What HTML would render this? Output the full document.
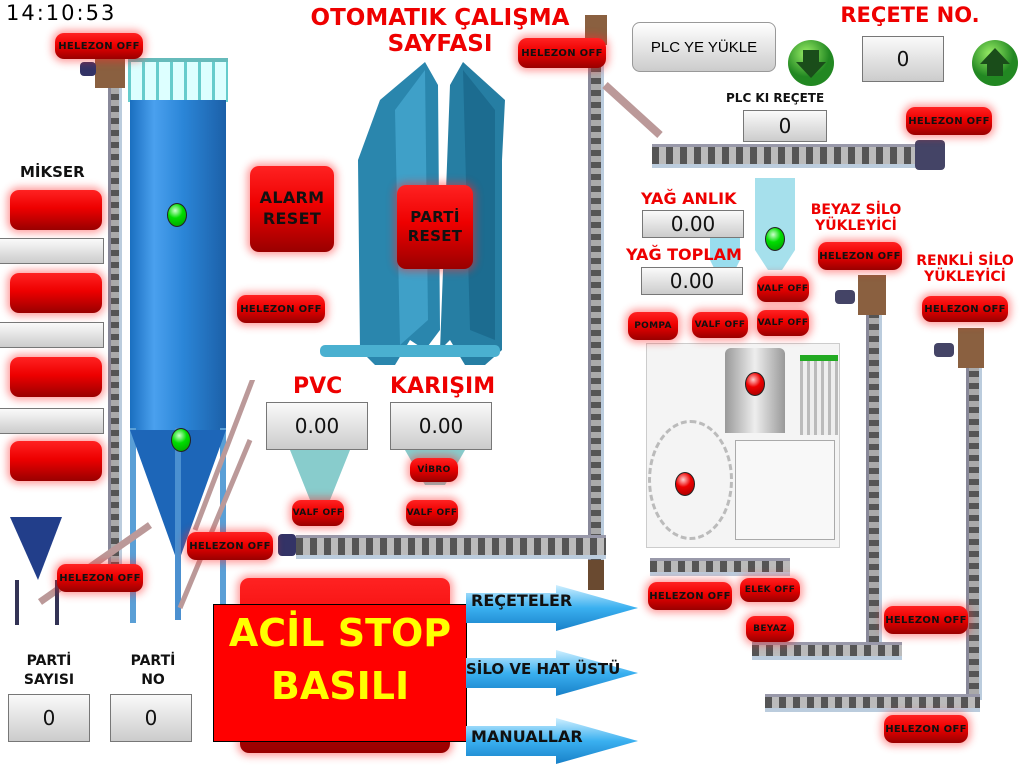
<!DOCTYPE html>
<html><head><meta charset="utf-8">
<style>
*{margin:0;padding:0;box-sizing:border-box}
body{width:1024px;height:763px;background:#fff;position:relative;overflow:hidden;font-family:"Liberation Sans","DejaVu Sans",sans-serif}
.a{position:absolute}
.btn{position:absolute;border-radius:9px;background:linear-gradient(#f22 0%,#e00 45%,#900 100%);box-shadow:0 0 8px 3px rgba(255,40,40,.45);color:#111;font-weight:bold;font-size:10px;text-align:center;display:flex;align-items:center;justify-content:center;letter-spacing:.3px;font-family:"DejaVu Sans",sans-serif}
.box{position:absolute;background:linear-gradient(#fafafa,#ccc);border:1px solid #777;font-size:20px;display:flex;align-items:center;justify-content:center;color:#111;font-family:"DejaVu Sans",sans-serif}
.rt{position:absolute;color:#e00;font-weight:bold;font-family:"DejaVu Sans",sans-serif;text-align:center;line-height:1.15}
.bt{position:absolute;color:#111;font-weight:bold;font-family:"DejaVu Sans",sans-serif;text-align:center;line-height:1.6}
.vs{position:absolute;background:repeating-linear-gradient(180deg,#555 0 6px,#aaa 6px 12px);border-left:3px solid #889;border-right:3px solid #bcd}
.hs{position:absolute;background:repeating-linear-gradient(90deg,#555 0 7px,#bbb 7px 14px);border-top:3px solid #99a;border-bottom:4px solid #bcd}
.dot{position:absolute;width:20px;height:24px;border-radius:50%;border:1px solid #222}
.g{background:radial-gradient(circle at 40% 30%,#cfc,#0d0 40%,#090)}
.r{background:radial-gradient(circle at 40% 30%,#fcc,#e00 40%,#900)}
</style></head><body>
<div class="a" style="left:6px;top:1px;font-size:21px;letter-spacing:2px;font-family:'DejaVu Sans',sans-serif">14:10:53</div>
<div class="rt" style="left:290px;top:5px;width:300px;font-size:23px">OTOMATIK ÇALIŞMA<br>SAYFASI</div>
<div class="rt" style="left:830px;top:3px;width:160px;font-size:21px">REÇETE NO.</div>
<div class="a" style="left:632px;top:22px;width:144px;height:50px;border-radius:8px;background:linear-gradient(#fff,#ccc);border:1px solid #999;font-size:15px;display:flex;align-items:center;justify-content:center">PLC YE YÜKLE</div>
<svg class="a" style="left:786px;top:38px" width="50" height="50"><defs><radialGradient id="gg" cx=".4" cy=".3"><stop offset="0" stop-color="#9e6"/><stop offset="1" stop-color="#282"/></radialGradient></defs><circle cx="25" cy="25" r="23" fill="url(#gg)"/><path d="M17 12h16v12h7L25 40 10 24h7z" fill="#1a4d1a"/></svg>
<svg class="a" style="left:970px;top:38px" width="50" height="50"><circle cx="25" cy="25" r="23" fill="url(#gg)"/><path d="M17 38h16V26h7L25 10 10 26h7z" fill="#1a4d1a"/></svg>
<div class="box" style="left:862px;top:36px;width:82px;height:46px">0</div>
<div class="bt" style="left:726px;top:92px;font-size:12px;line-height:1">PLC KI REÇETE</div>
<div class="box" style="left:743px;top:110px;width:84px;height:32px">0</div>

<!-- silo -->
<div class="a" style="left:128px;top:58px;width:100px;height:44px;background:repeating-linear-gradient(90deg,#6cc 0 3px,#dff 3px 14px);border-top:4px solid #6bb"></div>
<div class="a" style="left:130px;top:100px;width:96px;height:330px;background:linear-gradient(90deg,#1a6fbf,#4aa0ee 25%,#2b86d8 55%,#1c60a8)"></div>
<svg class="a" style="left:128px;top:428px" width="100" height="195"><rect x="2" y="0" width="6" height="195" fill="#5a9fd6"/><rect x="92" y="0" width="6" height="195" fill="#5a9fd6"/><path d="M2 2H98L52 130H48Z" fill="#1d66b8"/><rect x="47" y="0" width="6" height="192" fill="#4b90d0"/></svg>
<div class="dot g" style="left:167px;top:203px"></div>
<div class="dot g" style="left:171px;top:428px"></div>
<div class="vs" style="left:108px;top:82px;width:14px;height:510px"></div>
<div class="a" style="left:95px;top:58px;width:30px;height:30px;background:#8a6040"></div>
<div class="a" style="left:80px;top:62px;width:16px;height:14px;background:#336;border-radius:4px"></div>
<svg class="a" style="left:0;top:380px" width="300" height="250"><line x1="40" y1="222" x2="150" y2="145" stroke="#b99" stroke-width="7"/><line x1="180" y1="228" x2="250" y2="60" stroke="#b99" stroke-width="5"/><path d="M10 137L62 137 38 200Z" fill="#223e8a"/><rect x="15" y="200" width="4" height="45" fill="#335"/><rect x="55" y="200" width="4" height="45" fill="#335"/><line x1="262" y1="-25" x2="195" y2="150" stroke="#b99" stroke-width="5"/></svg>

<!-- hoppers -->
<svg class="a" style="left:300px;top:40px" width="220" height="340">
<path d="M80 60L125 22 138 45 140 290 125 310 110 300 95 325 75 325 60 310 58 120Z" fill="#2a86ad"/>
<path d="M95 70L125 30 128 280 100 305Z" fill="#3fa0c8"/>
<path d="M150 45L163 22 205 60 202 120 202 310 185 325 165 325 150 300 140 310Z" fill="#267ea3"/>
<path d="M163 30 195 70 195 300 170 290Z" fill="#1c6c90"/>
<rect x="20" y="305" width="180" height="12" rx="5" fill="#4ab0d0"/></svg>
<svg class="a" style="left:275px;top:440px" width="220" height="70"><path d="M15 10H75L55 60H35Z" fill="#8cc"/><path d="M130 10H190L170 45H150Z" fill="#8cc"/></svg>

<!-- conveyors -->
<div class="vs" style="left:588px;top:18px;width:16px;height:545px"></div>
<div class="a" style="left:585px;top:15px;width:22px;height:30px;background:#8a6040"></div>
<div class="a" style="left:588px;top:560px;width:16px;height:30px;background:#6a4a30"></div>
<div class="hs" style="left:296px;top:535px;width:310px;height:24px"></div>
<div class="a" style="left:278px;top:534px;width:18px;height:22px;background:#336;border-radius:4px"></div>
<div class="hs" style="left:652px;top:144px;width:270px;height:24px"></div>
<div class="a" style="left:915px;top:140px;width:30px;height:30px;background:#446;border-radius:4px"></div>
<svg class="a" style="left:600px;top:80px" width="70" height="70"><line x1="5" y1="5" x2="60" y2="55" stroke="#b99" stroke-width="8"/></svg>
<div class="vs" style="left:866px;top:300px;width:16px;height:350px"></div>
<div class="a" style="left:858px;top:275px;width:28px;height:40px;background:#8a6040"></div>
<div class="a" style="left:835px;top:290px;width:20px;height:14px;background:#446;border-radius:4px"></div>
<div class="vs" style="left:966px;top:335px;width:16px;height:365px"></div>
<div class="a" style="left:958px;top:328px;width:26px;height:40px;background:#8a6040"></div>
<div class="a" style="left:934px;top:343px;width:20px;height:14px;background:#446;border-radius:4px"></div>
<div class="hs" style="left:752px;top:642px;width:150px;height:18px"></div>
<div class="hs" style="left:765px;top:694px;width:215px;height:18px"></div>
<div class="hs" style="left:650px;top:558px;width:140px;height:18px"></div>

<!-- right silos & mixer -->
<svg class="a" style="left:700px;top:170px" width="100" height="150"><path d="M10 60H40V90L30 110H20L10 90Z" fill="#9de" /><path d="M55 8H95V80L82 100H68L55 80Z" fill="#a6e0ec"/></svg>
<div class="dot g" style="left:765px;top:227px"></div>
<div class="a" style="left:646px;top:343px;width:194px;height:205px;border:1px solid #ccc;background:#f4f4f4"></div>
<div class="a" style="left:725px;top:348px;width:60px;height:85px;background:linear-gradient(90deg,#999,#eee,#999);border-radius:6px 6px 0 0"></div>
<div class="a" style="left:800px;top:355px;width:38px;height:80px;background:repeating-linear-gradient(90deg,#bbb 0 3px,#eee 3px 7px);border-top:6px solid #2a2"></div>
<div class="a" style="left:648px;top:420px;width:85px;height:120px;border:3px dashed #bbb;border-radius:50%"></div>
<div class="a" style="left:735px;top:440px;width:100px;height:100px;border:1px solid #aaa;background:#f8f8f8"></div>
<div class="dot r" style="left:745px;top:372px"></div>
<div class="dot r" style="left:675px;top:472px"></div>

<!-- red buttons -->
<div class="btn" style="left:55px;top:33px;width:88px;height:26px">HELEZON OFF</div>
<div class="btn" style="left:518px;top:38px;width:88px;height:30px">HELEZON OFF</div>
<div class="btn" style="left:906px;top:107px;width:86px;height:28px">HELEZON OFF</div>
<div class="btn" style="left:237px;top:295px;width:88px;height:28px">HELEZON OFF</div>
<div class="btn" style="left:187px;top:532px;width:86px;height:28px">HELEZON OFF</div>
<div class="btn" style="left:57px;top:564px;width:86px;height:28px">HELEZON OFF</div>
<div class="btn" style="left:818px;top:242px;width:84px;height:28px">HELEZON OFF</div>
<div class="btn" style="left:922px;top:296px;width:86px;height:26px">HELEZON OFF</div>
<div class="btn" style="left:648px;top:582px;width:84px;height:28px">HELEZON OFF</div>
<div class="btn" style="left:884px;top:606px;width:84px;height:28px">HELEZON OFF</div>
<div class="btn" style="left:884px;top:715px;width:84px;height:28px">HELEZON OFF</div>
<div class="btn" style="left:10px;top:190px;width:92px;height:40px"></div>
<div class="btn" style="left:10px;top:273px;width:92px;height:40px"></div>
<div class="btn" style="left:10px;top:357px;width:92px;height:40px"></div>
<div class="btn" style="left:10px;top:441px;width:92px;height:40px"></div>
<div class="btn" style="left:250px;top:166px;width:84px;height:86px;font-size:16px;line-height:1.3">ALARM<br>RESET</div>
<div class="btn" style="left:397px;top:185px;width:76px;height:84px;font-size:15px;line-height:1.3">PARTİ<br>RESET</div>
<div class="btn" style="left:410px;top:458px;width:48px;height:24px;font-size:9px">VİBRO</div>
<div class="btn" style="left:292px;top:500px;width:52px;height:26px;font-size:9px">VALF OFF</div>
<div class="btn" style="left:406px;top:500px;width:52px;height:26px;font-size:9px">VALF OFF</div>
<div class="btn" style="left:628px;top:312px;width:50px;height:28px;font-size:9px">POMPA</div>
<div class="btn" style="left:692px;top:312px;width:56px;height:26px;font-size:9px">VALF OFF</div>
<div class="btn" style="left:757px;top:276px;width:52px;height:26px;font-size:9px">VALF OFF</div>
<div class="btn" style="left:757px;top:310px;width:52px;height:26px;font-size:9px">VALF OFF</div>
<div class="btn" style="left:740px;top:578px;width:60px;height:24px;font-size:9px">ELEK OFF</div>
<div class="btn" style="left:746px;top:616px;width:48px;height:26px;font-size:9px">BEYAZ</div>
<div class="btn" style="left:240px;top:578px;width:210px;height:175px"></div>

<!-- labels & boxes -->
<div class="bt" style="left:20px;top:160px;font-size:15px">MİKSER</div>
<div class="box" style="left:-2px;top:238px;width:106px;height:26px"></div>
<div class="box" style="left:-2px;top:322px;width:106px;height:26px"></div>
<div class="box" style="left:-2px;top:408px;width:106px;height:26px"></div>
<div class="rt" style="left:293px;top:374px;font-size:22px">PVC</div>
<div class="rt" style="left:390px;top:374px;font-size:22px">KARIŞIM</div>
<div class="box" style="left:266px;top:402px;width:102px;height:48px">0.00</div>
<div class="box" style="left:390px;top:402px;width:102px;height:48px">0.00</div>
<div class="rt" style="left:641px;top:190px;font-size:16px">YAĞ ANLIK</div>
<div class="box" style="left:642px;top:210px;width:102px;height:28px">0.00</div>
<div class="rt" style="left:626px;top:246px;font-size:16px">YAĞ TOPLAM</div>
<div class="box" style="left:641px;top:267px;width:102px;height:28px">0.00</div>
<div class="rt" style="left:808px;top:202px;width:96px;font-size:14px">BEYAZ SİLO<br>YÜKLEYİCİ</div>
<div class="rt" style="left:912px;top:253px;width:106px;font-size:14px">RENKLİ SİLO<br>YÜKLEYİCİ</div>
<div class="bt" style="left:14px;top:652px;width:70px;font-size:14px;line-height:1.35">PARTİ<br>SAYISI</div>
<div class="bt" style="left:118px;top:652px;width:70px;font-size:14px;line-height:1.35">PARTİ<br>NO</div>
<div class="box" style="left:8px;top:694px;width:82px;height:48px">0</div>
<div class="box" style="left:110px;top:694px;width:82px;height:48px">0</div>

<div class="a" style="left:213px;top:604px;width:254px;height:138px;background:#f00;border:1px solid #000;color:#ff0;font-weight:bold;font-size:38px;text-align:center;line-height:1.4;padding-top:2px;font-family:'DejaVu Sans',sans-serif">ACİL STOP<br>BASILI</div>

<svg class="a" style="left:466px;top:585px" width="180" height="180"><defs><linearGradient id="bl" x1="0" y1="0" x2="0" y2="1"><stop offset="0" stop-color="#cfefff"/><stop offset=".5" stop-color="#3ab0f0"/><stop offset="1" stop-color="#1880c8"/></linearGradient></defs>
<path d="M0 8H90V0L172 23 90 46V38H0Z" fill="url(#bl)"/>
<path d="M0 73H90V65L172 88 90 111V103H0Z" fill="url(#bl)"/>
<path d="M0 141H90V133L172 156 90 179V171H0Z" fill="url(#bl)"/></svg>
<div class="bt" style="left:471px;top:591px;font-size:16px;line-height:1.2">REÇETELER</div>
<div class="bt" style="left:466px;top:660px;font-size:15px;line-height:1.2">SİLO VE HAT ÜSTÜ</div>
<div class="bt" style="left:471px;top:727px;font-size:16px;line-height:1.2">MANUALLAR</div>
</body></html>
